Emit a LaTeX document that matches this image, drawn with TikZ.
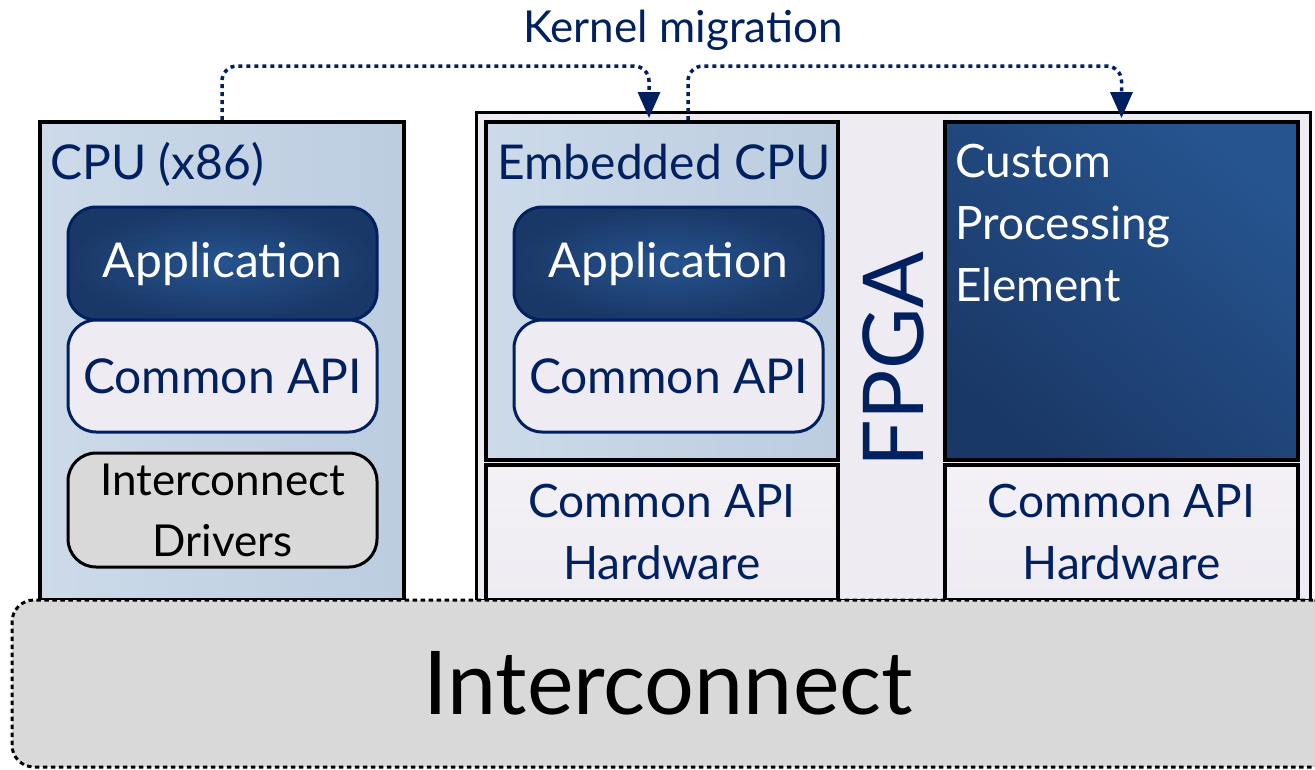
\documentclass[tikz,border=0pt]{standalone}
\usepackage{fontspec}
\setmainfont{Lato}
\usetikzlibrary{arrows.meta,calc}
\definecolor{navy}{HTML}{002060}
\definecolor{paleblueL}{HTML}{CCDAE9}
\definecolor{paleblueR}{HTML}{BCCDE0}
\definecolor{deepblueC}{HTML}{26548F}
\definecolor{deepblueE}{HTML}{1A3867}
\definecolor{lilac}{HTML}{EEEBF2}
\definecolor{greybox}{HTML}{D9D9D9}
\tikzset{
  box/.style={draw=black, line width=4pt, inner sep=0pt, rectangle},
  cpubox/.style={box, left color=paleblueL, right color=paleblueR},
  appbox/.style={draw=navy, line width=3pt, rounded corners=28pt, inner sep=0pt,
    inner color=deepblueC, outer color=deepblueE, text=white,
    minimum width=309pt, minimum height=113pt, font=\fontsize{48}{56}\selectfont},
  apibox/.style={draw=navy, line width=3pt, rounded corners=28pt, inner sep=0pt,
    fill=lilac, text=navy, minimum width=309pt, minimum height=112pt,
    font=\fontsize{48}{56}\selectfont},
  hwbox/.style={box, line width=3.5pt, top color=lilac!70!white, bottom color=lilac,
    text=navy, align=center, font=\fontsize{46}{62}\selectfont},
  lbl/.style={text=navy, inner sep=0pt, font=\fontsize{48}{56}\selectfont},
  migr/.style={draw=navy, line width=3.5pt, dash pattern=on 4pt off 4pt,
    rounded corners=15pt, -{Triangle[length=26pt,width=22pt]}},
}
\begin{document}
\begin{tikzpicture}[x=1pt,y=-1pt]
\useasboundingbox (0,0) rectangle (1315,769);

% FPGA fabric
\node[draw=black, line width=3pt, fill=lilac, inner sep=0pt,
  minimum width=834pt, minimum height=488pt] (fpga) at (893,356) {};
\node[text=navy, rotate=90, inner sep=0pt, font=\fontsize{84}{90}\selectfont]
  (fpgalbl) at (893,360) {FPGA};

% host CPU
\node[cpubox, minimum width=364pt, minimum height=478pt] (cpu) at (222,361) {};
\node[lbl, anchor=west] (cpulbl) at (50,164) {CPU (x86)};
\node[appbox] (capp) at (222.5,263.5) {Application};
\node[apibox] (capi) at (222.5,376) {Common API};
\node[draw=black, line width=3pt, rounded corners=28pt, inner sep=0pt, fill=greybox,
  minimum width=309pt, minimum height=114pt, align=center,
  font=\fontsize{44}{61}\selectfont] (drv) at (222.5,510) {Interconnect\\Drivers};

% embedded CPU
\node[cpubox, minimum width=352pt, minimum height=338pt] (emb) at (662,291) {};
\node[lbl, anchor=west] (emblbl) at (497,162) {Embedded CPU};
\node[appbox] (eapp) at (668.5,263.5) {Application};
\node[apibox] (eapi) at (668.5,376) {Common API};
\node[hwbox, minimum width=352pt, minimum height=135pt] (hw1) at (662,532.5)
  {Common API\\Hardware};

% custom processing element
\node[box, top color=deepblueC, bottom color=deepblueE, shading angle=-40,
  minimum width=353pt, minimum height=338pt] (cpe) at (1121.5,291) {};
\node[anchor=north west, text=white, align=left, inner sep=0pt,
  font=\fontsize{46}{62}\selectfont] (cpelbl) at (955,144)
  {Custom\\Processing\\Element};
\node[hwbox, minimum width=353pt, minimum height=135pt] (hw2) at (1121.5,532.5)
  {Common API\\Hardware};

% interconnect
\node[draw=black, line width=3pt, dash pattern=on 4.5pt off 3.5pt, rounded corners=22pt,
  fill=greybox, inner sep=0pt, minimum width=1323pt, minimum height=167pt] (ic)
  at (673.5,683.5) {};
\node[inner sep=0pt, font=\fontsize{88}{96}\selectfont] (iclbl) at (668,683) {Interconnect};

% kernel migration
\node[text=navy, inner sep=0pt, font=\fontsize{44}{50}\selectfont] (kmlbl) at (683,30)
  {Kernel migration};
\draw[migr] (cpu.north) -- ++(0,-54) -| ($(emb.north)+(-13,-2)$);
\draw[migr] ($(emb.north)+(26,0)$) -- ++(0,-54) -| ($(cpe.north)+(0,-2)$);
\end{tikzpicture}
\end{document}
